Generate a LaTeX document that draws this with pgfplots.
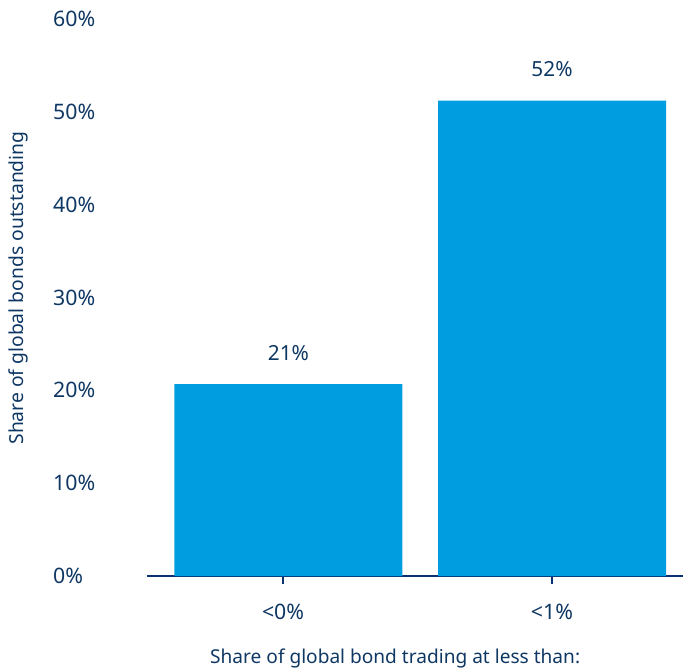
\documentclass[border=0pt]{standalone}
\usepackage{fontspec}
\setmainfont{Noto Sans}
\usepackage{pgfplots}
\pgfplotsset{compat=1.18}
\definecolor{navy}{HTML}{0F3763}
\definecolor{axisnavy}{HTML}{0A3170}
\definecolor{barblue}{HTML}{009EE0}
\begin{document}
\begin{tikzpicture}
\path[use as bounding box] (-147pt,-94pt) rectangle (536pt,576pt);
\begin{axis}[
  at={(0pt,0pt)}, anchor=south west,
  scale only axis, width=536pt, height=556pt,
  xmin=-0.506, xmax=1.487, ymin=0, ymax=60,
  ybar, bar width=228pt,
  ytick={0,10,20,30,40,50,60},
  yticklabel={\pgfmathprintnumber[assume math mode=true]{\tick}\%},
  xtick={0,1}, xticklabels={{<0\%},{<1\%}},
  axis x line*=bottom, axis y line*=left,
  y axis line style={draw=none},
  x axis line style={draw=axisnavy, line width=2.5pt, -},
  tick align=outside, major tick length=8pt,
  xtick style={draw=axisnavy, line width=2.5pt},
  ytick style={draw=none},
  tick label style={font=\fontsize{21.3}{25}\selectfont, text=navy},
  yticklabel style={anchor=base west, inner sep=0pt, xshift=-86pt, yshift=-7pt},
  xticklabel style={anchor=base, inner sep=0pt, yshift=-35.5pt},
  xlabel={Share of global bond trading at less than:},
  ylabel={Share of global bonds outstanding},
  every axis x label/.style={at={(rel axis cs:0.463,0)}, anchor=base, yshift=-87.5pt,
     font=\fontsize{19.1}{22}\selectfont, text=navy},
  every axis y label/.style={at={(rel axis cs:0,0.518)}, xshift=-129pt, rotate=90, anchor=center,
     font=\fontsize{19.3}{22}\selectfont, text=navy},
  clip=false,
]
\addplot[fill=barblue, draw=none, point meta=explicit symbolic,
  nodes near coords,
  nodes near coords style={anchor=base, yshift=24pt, inner sep=0pt,
     font=\fontsize{20.8}{24}\selectfont, text=navy}]
  coordinates {(0.02,20.7) [21\%] (1,51.3) [52\%]};
\end{axis}
\end{tikzpicture}
\end{document}
